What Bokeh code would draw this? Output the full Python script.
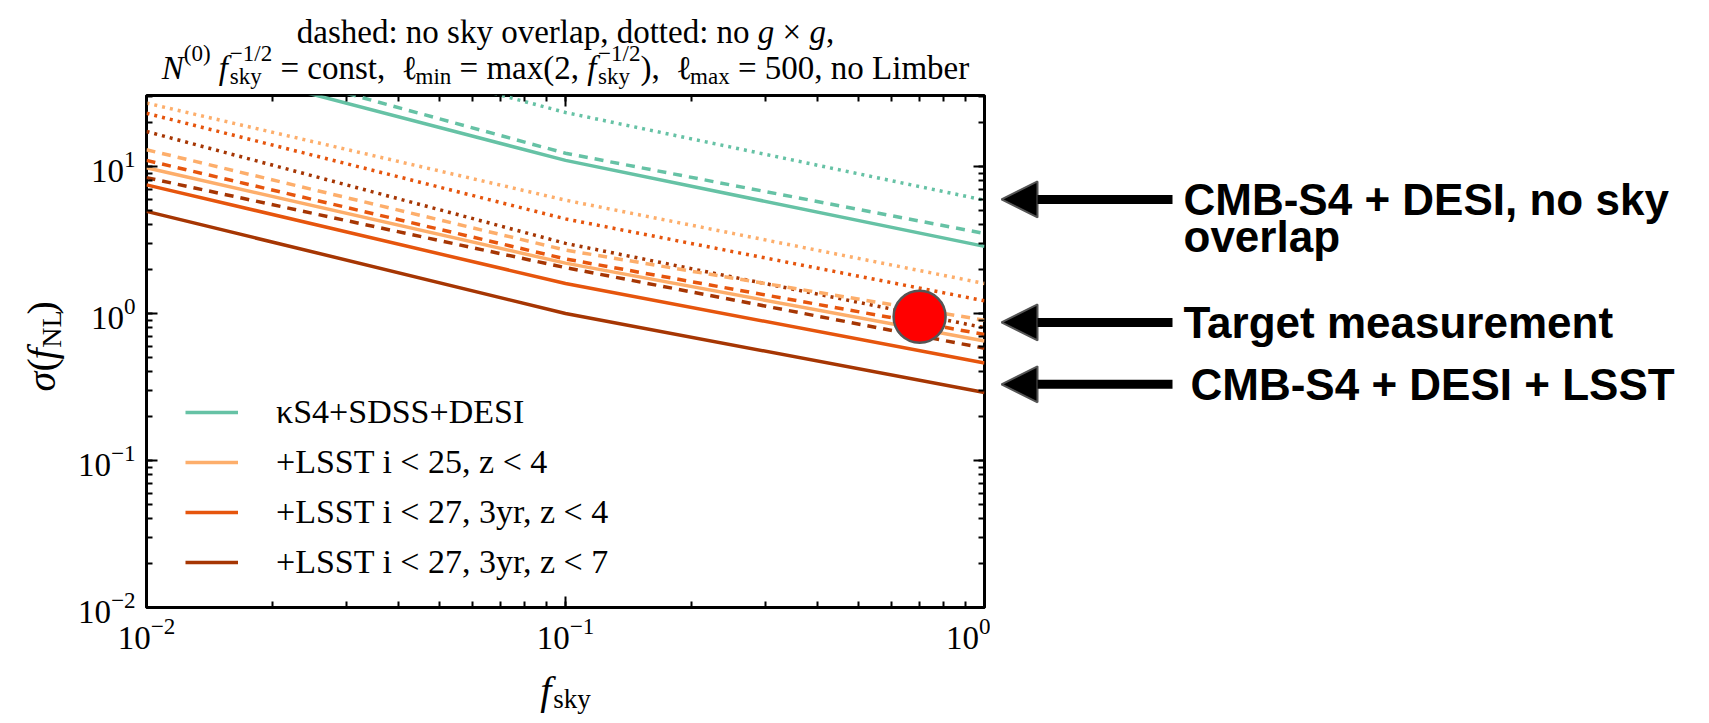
import math
from bokeh.plotting import figure
from bokeh.models import (Label, Legend, LegendItem, LogAxis, Arrow, NormalHead,
                          Range1d, LogTicker, CustomJSTickFormatter)
from bokeh.layouts import row, column
from bokeh.core.properties import value
from bokeh.embed import file_html
from bokeh.resources import INLINE

# ---------------- data ----------------
f_sky = [0.01, 0.1, 1.0]

kS4_solid = [61.0, 11.0, 2.86]
kS4_dashed = [74.0, 12.3, 3.5]
kS4_dotted = [135.0, 23.3, 5.9]

lsst25_solid = [9.8, 2.2, 0.65]
lsst25_dashed = [13.0, 2.7, 0.90]
lsst25_dotted = [27.0, 5.9, 1.6]

lsst27z4_solid = [7.5, 1.6, 0.46]
lsst27z4_dashed = [11.0, 2.35, 0.72]
lsst27z4_dotted = [23.0, 4.4, 1.22]

lsst27z7_solid = [4.95, 1.0, 0.29]
lsst27z7_dashed = [8.4, 2.05, 0.58]
lsst27z7_dotted = [17.3, 3.0, 0.80]

target_fsky = [0.7]
target_sigma = [0.95]

legend_labels = ["κS4+SDSS+DESI", "+LSST i < 25, z < 4",
                 "+LSST i < 27, 3yr, z < 4", "+LSST i < 27, 3yr, z < 7"]
annotation_texts = ["CMB-S4 + DESI, no sky", "Target measurement", "CMB-S4 + DESI + LSST"]
annotation_second_line = "overlap"
annotation_levels = [5.97, 0.87, 0.33]

x_limits = (0.0099999, 1.0)
y_limits = (0.01, 30.4)

# ---------------- style ----------------
TEAL = "#66c2a5"
LIGHT = "#fdae6b"
MID = "#e6550d"
DARK = "#a63603"
LW = 3.5
DASH = "9 7"
DOT = "3 5"
SERIF = "Liberation Serif"

# ---------------- page geometry (page px) ----------------
TOTAL_W, H = 1693, 715
FRAME_L, FRAME_T, FRAME_W, FRAME_H = 146, 95, 838, 512
FRAME_B = FRAME_T + FRAME_H
YLAB_W = 74
P1_W = 990 - YLAB_W
P2_W = TOTAL_W - 990
IN_TOP = 4                       # p1 border above frame
IN_BOT = 56                      # p1 border below frame
HEAD_H = FRAME_T - IN_TOP
MID_H = IN_TOP + FRAME_H + IN_BOT
FOOT_H = H - HEAD_H - MID_H
MID_BOT = HEAD_H + MID_H


def blank(width, height, xr, yr):
    f = figure(width=width, height=height, x_range=xr, y_range=yr,
               x_axis_location=None, y_axis_location=None, toolbar_location=None,
               output_backend="svg", min_border=0)
    f.outline_line_color = None
    f.grid.visible = False
    f.background_fill_color = "white"
    f.border_fill_color = "white"
    return f


# ---------------- main plot ----------------
p = figure(width=P1_W, height=MID_H, x_axis_type="log", y_axis_type="log",
           x_range=x_limits, y_range=y_limits, toolbar_location=None,
           output_backend="svg", min_border_left=FRAME_L - YLAB_W,
           min_border_right=990 - FRAME_L - FRAME_W, min_border_top=IN_TOP,
           min_border_bottom=IN_BOT)
p.grid.visible = False
p.outline_line_color = "black"
p.outline_line_width = 3
p.background_fill_color = "white"
p.border_fill_color = "white"


def style_axis(ax, labels=True):
    ax.ticker = LogTicker(num_minor_ticks=10)
    ax.axis_line_color = None
    ax.major_tick_in = 11
    ax.major_tick_out = 0
    ax.minor_tick_in = 6
    ax.minor_tick_out = 0
    ax.major_tick_line_width = 2
    ax.minor_tick_line_width = 2
    ax.major_tick_line_color = "black"
    ax.minor_tick_line_color = "black"
    ax.major_label_text_font = SERIF
    ax.major_label_text_color = "black"
    if labels:
        ax.major_label_text_font_size = "33px"
    else:
        ax.formatter = CustomJSTickFormatter(code="return ''")
        ax.major_label_text_font_size = "2px"
        ax.major_label_standoff = 0


style_axis(p.xaxis[0])
style_axis(p.yaxis[0])
p.xaxis[0].major_label_standoff = 10
p.yaxis[0].major_label_standoff = 11

top_ax = LogAxis()
style_axis(top_ax, labels=False)
p.add_layout(top_ax, "above")
right_ax = LogAxis()
style_axis(right_ax, labels=False)
p.add_layout(right_ax, "right")


def draw(vals, color, dash):
    kw = dict(line_color=color, line_width=LW)
    if dash is not None:
        kw["line_dash"] = dash
    return p.line(f_sky, vals, **kw)

for vals, color in [(kS4_dotted, TEAL), (lsst25_dotted, LIGHT),
                    (lsst27z4_dotted, MID), (lsst27z7_dotted, DARK)]:
    draw(vals, color, DOT)
for vals, color in [(kS4_dashed, TEAL), (lsst25_dashed, LIGHT),
                    (lsst27z4_dashed, MID), (lsst27z7_dashed, DARK)]:
    draw(vals, color, DASH)
solid = []
for vals, color in [(kS4_solid, TEAL), (lsst25_solid, LIGHT),
                    (lsst27z4_solid, MID), (lsst27z7_solid, DARK)]:
    solid.append(draw(vals, color, None))

p.scatter(target_fsky, target_sigma, size=52, fill_color="#ff0000",
          line_color="#555555", line_width=2.5)

legend = Legend(items=[LegendItem(label=l, renderers=[r]) for l, r in zip(legend_labels, solid)],
                location=(185 - FRAME_L, FRAME_B - 581),
                label_text_font=SERIF, label_text_font_size="34px",
                label_text_color="black",
                glyph_width=53, glyph_height=38, label_height=38, spacing=12,
                padding=0, margin=0, label_standoff=38,
                background_fill_alpha=0, border_line_color=None)
p.add_layout(legend)

# ---------------- composed math-like texts ----------------
REG = {' ': 250, '(': 333, ')': 333, ',': 250, '=': 564, '/': 278, '−': 564,
       '-': 333, 'a': 444, 'b': 500, 'c': 444, 'd': 500, 'e': 444, 'g': 500,
       'h': 500, 'i': 278, 'k': 500, 'l': 278, 'm': 778, 'n': 500, 'o': 500,
       'p': 500, 'r': 333, 's': 389, 't': 278, 'v': 500, 'x': 500, 'y': 500,
       'L': 611, 'N': 722, ':': 278, '×': 564, 'ℓ': 420, 'σ': 550}
ITA = {'N': 667, 'f': 330, 'g': 500, 'σ': 560}


def width(text, size, italic):
    tbl = ITA if italic else REG
    return sum(tbl.get(c, 500) for c in text) / 1000.0 * size


def compose(items, cx, base, S, small, sub=0.26, sup=0.42):
    rows = []
    total = 0.0
    pending = 0.0
    for text, it, kind, adv in items:
        size = S if kind == "n" else small
        w = width(text, size, it)
        if adv:
            total += max(w, pending)
            pending = 0.0
        else:
            pending = w
    x = cx - total / 2.0
    pending = 0.0
    for text, it, kind, adv in items:
        size = S if kind == "n" else small
        w = width(text, size, it)
        dy = {"n": 0.0, "sup": -sup * S, "sub": sub * S}[kind]
        lead = len(text) - len(text.lstrip(" "))
        rows.append((x + lead * 0.25 * size, base + dy, text.strip(" "), size,
                     "italic" if it else "normal"))
        if adv:
            x += max(w, pending)
            pending = 0.0
        else:
            pending = w
    return rows


def put(fig, rows, ymap, angle=0.0, xmap=None):
    for x, y, text, size, st in rows:
        X, Y = (x, ymap(y)) if xmap is None else xmap(x, y)
        fig.text(x=[X], y=[Y], text=[text], text_font=value(SERIF),
                 text_font_size=value("%dpx" % round(size)), text_font_style=value(st),
                 text_baseline="alphabetic", text_align="left", text_color="black",
                 angle=angle)

N_, I_ = False, True
line1 = [("dashed: no sky overlap, dotted: no ", N_, "n", True), ("g", I_, "n", True),
         (" × ", N_, "n", True), ("g", I_, "n", True), (",", N_, "n", True)]
stack = [("−1/2", N_, "sup", False), ("sky", N_, "sub", True)]
line2 = ([("N", I_, "n", True), ("(0)", N_, "sup", True), (" ", N_, "n", True),
          ("f", I_, "n", True)] + stack +
         [(" = const,  ", N_, "n", True), ("ℓ", N_, "n", True), ("min", N_, "sub", True),
          (" = max(2, ", N_, "n", True), ("f", I_, "n", True)] + stack +
         [("),  ", N_, "n", True), ("ℓ", N_, "n", True), ("max", N_, "sub", True),
          (" = 500, no Limber", N_, "n", True)])
xlab = [("f", I_, "n", True), ("sky", N_, "sub", True)]
ylab = [("σ", I_, "n", True), ("(", N_, "n", True), ("f", I_, "n", True),
        ("NL", N_, "sub", True), (")", N_, "n", True)]

header = blank(990, HEAD_H, Range1d(0, 990), Range1d(0, HEAD_H))
put(header, compose(line1, 565, 31, 33, 23) + compose(line2, 565, 67, 33, 23),
    lambda y: HEAD_H - y)

footer = blank(990, FOOT_H, Range1d(0, 990), Range1d(0, FOOT_H))
put(footer, compose(xlab, 565, 690, 40, 27, sub=0.2), lambda y: H - y)

ylfig = blank(YLAB_W, MID_H, Range1d(0, YLAB_W), Range1d(0, MID_H))
YC, YBASE = 372, 41
put(ylfig, compose(ylab, 0, 0, 40, 28), None, angle=math.pi / 2,
    xmap=lambda x, y: (YBASE + y, MID_BOT - (YC - x)))

# ---------------- right-hand annotation panel ----------------
p2 = figure(width=P2_W, height=MID_H, x_range=Range1d(990, TOTAL_W),
            y_range=p.y_range, y_axis_type="log", x_axis_location=None,
            y_axis_location=None, toolbar_location=None, output_backend="svg",
            min_border_left=0, min_border_right=0, min_border_top=IN_TOP,
            min_border_bottom=IN_BOT)
p2.outline_line_color = None
p2.grid.visible = False
p2.background_fill_color = "white"
p2.border_fill_color = "white"

for i, (txt, lvl) in enumerate(zip(annotation_texts, annotation_levels)):
    p2.add_layout(Arrow(end=NormalHead(size=36, fill_color="black", line_color="#555555",
                                       line_width=2),
                        x_start=1172, y_start=lvl, x_end=1001, y_end=lvl,
                        line_width=9, line_color="black"))
    p2.add_layout(Label(x=1183, y=lvl, x_offset=7 if i == 2 else 0, text=txt,
                        text_font="Liberation Sans", text_font_style="bold",
                        text_font_size="44px", text_baseline="middle",
                        text_color="black"))
p2.add_layout(Label(x=1183, y=annotation_levels[0], y_offset=-37,
                    text=annotation_second_line, text_font="Liberation Sans",
                    text_font_style="bold", text_font_size="44px",
                    text_baseline="middle", text_color="black"))

layout = column(header, row(ylfig, p, p2), footer)
open("out.html", "w").write(file_html(layout, INLINE))
